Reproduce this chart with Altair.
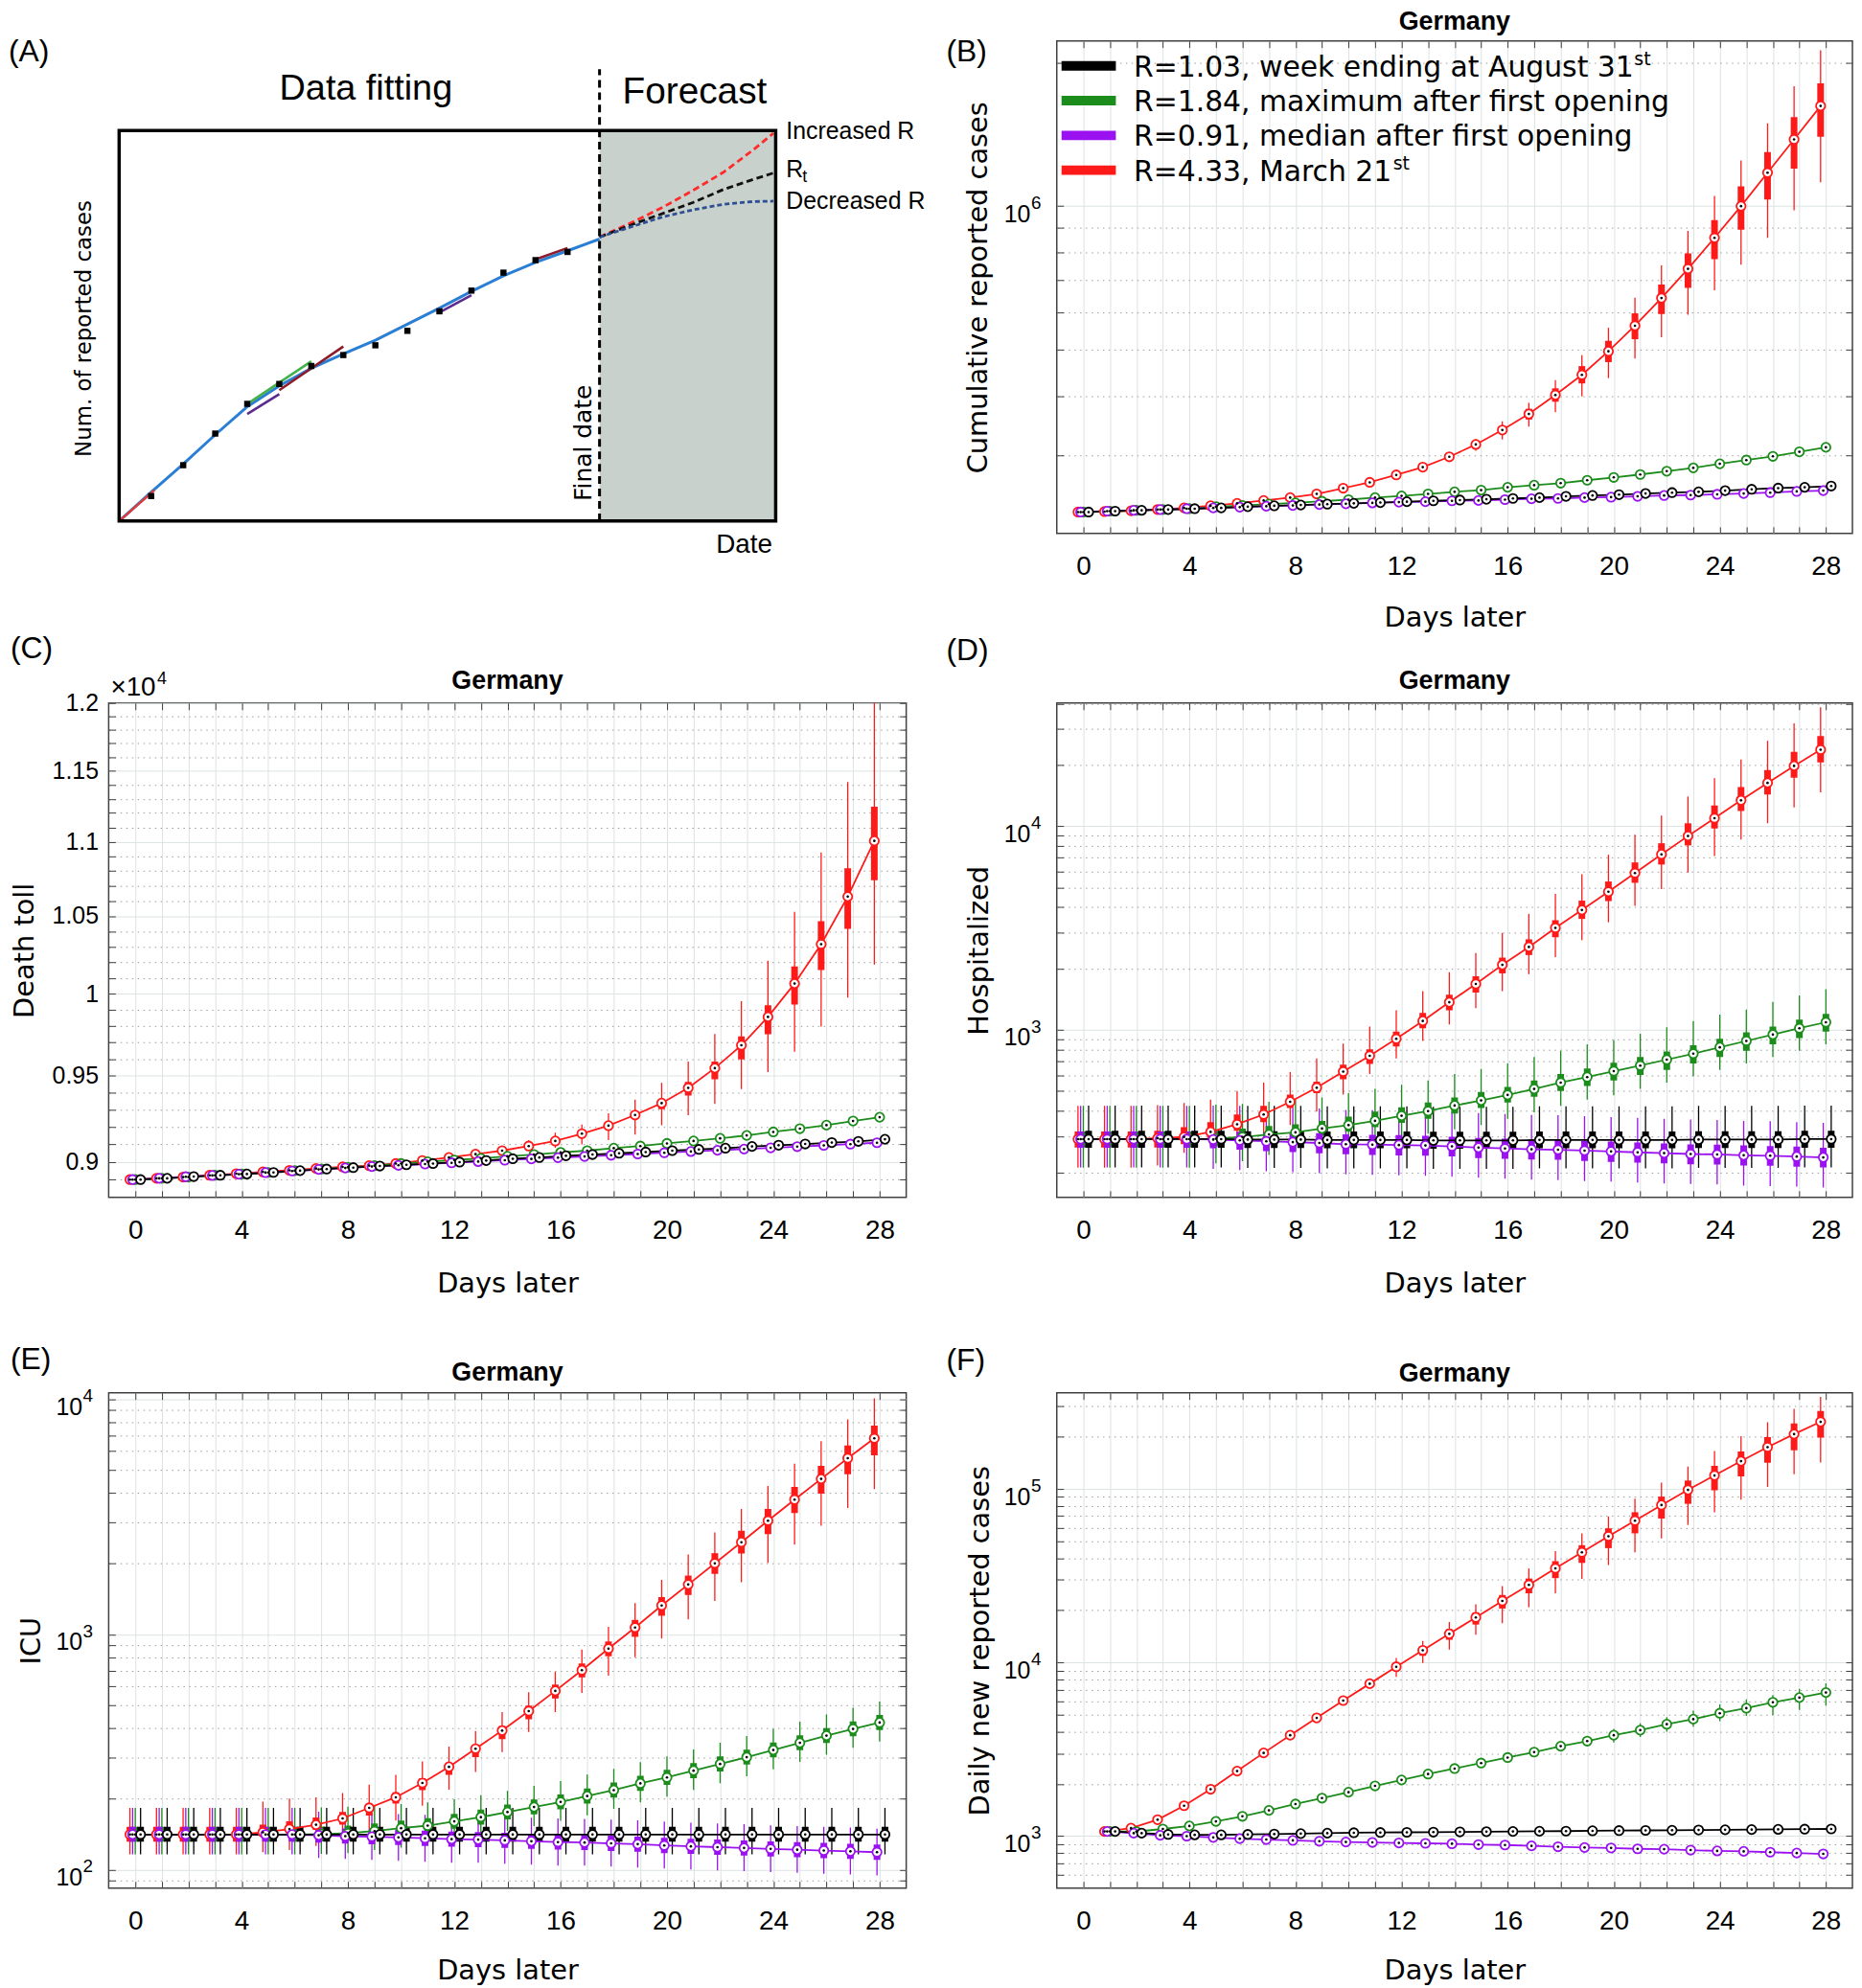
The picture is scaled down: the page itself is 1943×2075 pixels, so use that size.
import altair as alt
import pandas as pd

# ---------------------------------------------------------------- data
DAYS = list(range(29))

def pad(n, vals):
    return [None] * n + list(vals)

LEG_KEYS = ["black", "green", "purple", "red"]
LEG_TEXT = ["R=1.03, week ending at August 31", "R=1.84, maximum after first opening",
            "R=0.91, median after first opening", "R=4.33, March 21"]
LEG_SUP = ["st", "", "", "st"]
LEG_COLORS = ["#000000", "#1c8c1c", "#9a12f0", "#ff1a1a"]
DRAW_ORDER = ["red", "green", "purple", "black"]
OFFSET = {"red": -0.2, "purple": -0.1, "green": 0.0, "black": 0.2}

# (B) cumulative reported cases
B_RED = [228400, 228900, 229800, 231200, 233000, 235400, 238200, 241500, 244900, 249300, 256300, 263600,
         273200, 283700, 298200, 316500, 339400, 366700, 401800, 443000, 496200, 561500, 641700, 739000,
         858000, 1000000, 1175000, 1380000, 1622000]
B_RED_BLO = pad(14, [296000, 313000, 333000, 357000, 389000, 425000, 471000, 526000, 594000, 674000, 774000,
                     893000, 1032000, 1199000, 1397000])
B_RED_BHI = pad(14, [301000, 320000, 345000, 376000, 415000, 462000, 522000, 596000, 685000, 796000, 935000,
                     1100000, 1298000, 1537000, 1809000])
B_RED_WLO = pad(14, [293000, 307000, 324000, 345000, 370000, 399000, 436000, 479000, 531000, 592000, 666000,
                     754000, 858000, 980000, 1122000])
B_RED_WHI = pad(14, [304000, 325000, 354000, 387000, 432000, 487000, 556000, 643000, 751000, 887000, 1051000,
                     1247000, 1492000, 1784000, 2121000])
B_GREEN = [228400, 229400, 230300, 231200, 232100, 234400, 235800, 237300, 238700, 240600, 242500, 244900,
           246900, 249300, 251800, 253900, 257400, 260000, 262600, 266300, 270000, 273800, 278200, 282700,
           288300, 293500, 298900, 305500, 312200]
B_PURPLE = [228400, 229400, 230300, 231200, 232100, 233000, 233900, 234900, 235800, 236800, 237700, 238700,
            239600, 240100, 241100, 241500, 242500, 243500, 243900, 244900, 245400, 246400, 247400, 247900,
            248800, 249800, 250800, 252300, 253300]
B_BLACK = [228400, 229400, 230300, 231200, 232100, 233000, 234400, 235400, 236300, 237300, 238200, 239100,
           240100, 241100, 242000, 243000, 243900, 244900, 246400, 247400, 248400, 249800, 250800, 251800,
           253300, 254900, 256400, 257400, 259000]

# (C) death toll
C_RED = [8900, 8907, 8914, 8924, 8933, 8943, 8952, 8962, 8971, 8978, 8990, 9007, 9024, 9043, 9063, 9089,
         9118, 9160, 9206, 9268, 9337, 9427, 9544, 9682, 9856, 10064, 10316, 10628, 11006]
C_RED_BLO = pad(15, [9085, 9110, 9150, 9192, 9245, 9302, 9382, 9478, 9597, 9749, 9933, 10150, 10415, 10738])
C_RED_BHI = pad(15, [9093, 9126, 9170, 9221, 9288, 9362, 9462, 9584, 9736, 9928, 10172, 10466, 10819, 11245])
C_RED_WLO = pad(15, [9063, 9079, 9099, 9123, 9155, 9209, 9266, 9332, 9420, 9520, 9643, 9796, 9976, 10185])
C_RED_WHI = pad(15, [9123, 9165, 9213, 9278, 9357, 9457, 9584, 9751, 9954, 10209, 10527, 10926, 11420, 12200])
C_GREEN = [8900, 8907, 8914, 8924, 8931, 8940, 8950, 8959, 8969, 8978, 8990, 9000, 9010, 9019, 9031, 9041,
           9053, 9063, 9077, 9089, 9104, 9118, 9133, 9150, 9170, 9189, 9209, 9233, 9255]
C_PURPLE = [8900, 8907, 8916, 8923, 8930, 8939, 8948, 8957, 8965, 8973, 8980, 8987, 8994, 9001, 9009, 9016,
            9023, 9030, 9037, 9044, 9051, 9058, 9065, 9072, 9079, 9086, 9093, 9100, 9108]
C_BLACK = [8900, 8907, 8917, 8924, 8931, 8940, 8950, 8959, 8967, 8976, 8983, 8990, 8998, 9007, 9017, 9024,
           9034, 9041, 9048, 9055, 9063, 9070, 9077, 9087, 9094, 9101, 9109, 9116, 9128]

# (D) hospitalized
D_RED = [290.8, 290.8, 290.8, 293.5, 297.8, 315.5, 344.0, 384.2, 443.8, 520.0, 624.2, 746.0, 904.0, 1106,
         1367, 1681, 2086, 2554, 3170, 3879, 4770, 5893, 7282, 8954, 10956, 13411, 16329, 19796, 23759]
D_RED_BLO = [264.1, 264.1, 264.1, 264.1, 274.5, 294.9, 320.0, 352.4, 412.9, 488.6, 572.6, 680.8, 829.1, 1019,
             1247, 1527, 1895, 2331, 2852, 3507, 4291, 5277, 6487, 8056, 9763, 11890, 14340, 17300, 20570]
D_RED_BHI = [317.0, 317.0, 317.0, 320.0, 332.5, 352.4, 384.2, 423.0, 481.6, 556.4, 674.3, 801.6, 981, 1212,
             1490, 1833, 2264, 2784, 3456, 4312, 5354, 6644, 8252, 10340, 12660, 15560, 18860, 23200, 27710]
D_RED_WLO = [210.7, 210.7, 210.7, 215.8, 249.3, 267.9, 281.1, 309.5, 340.6, 397.3, 481.6, 606.6, 724.6, 882.4,
             1064, 1278, 1549, 1877, 2275, 2757, 3375, 4070, 4909, 5922, 7144, 8616, 10340, 12360, 14690]
D_RED_WHI = [423.0, 423.0, 423.0, 427.1, 437.5, 454.6, 500.4, 551.1, 621.3, 724.6, 857.5, 1039, 1247, 1549,
             1922, 2387, 2992, 3715, 4656, 5809, 7247, 9084, 11280, 14000, 17220, 21270, 26280, 32010, 38420]
D_GREEN = [290.8, 290.8, 290.8, 290.8, 290.8, 292.1, 297.8, 306.5, 314.0, 327.9, 340.6, 357.6, 378.7, 399.2,
           425.0, 450.2, 479.3, 512.7, 551.1, 586.6, 627.2, 667.9, 714.4, 764.1, 821.1, 882.4, 948.5, 1019, 1090]
D_GREEN_BLO = [264.1, 264.1, 264.1, 264.1, 264.1, 267.9, 274.5, 281.1, 290.8, 302.1, 317.0, 332.5, 349.0, 366.2,
               387.9, 412.9, 439.5, 470.0, 500.4, 530.2, 564.5, 600.8, 636.7, 684.0, 735.1, 790.0, 849.1, 912.8, 981.0]
D_GREEN_BHI = [317.0, 317.0, 317.0, 317.0, 317.0, 320.0, 327.9, 337.4, 344.0, 357.6, 375.1, 397.3, 416.9, 439.5,
               465.5, 495.5, 525.1, 564.5, 606.6, 645.7, 690.6, 735.1, 782.5, 841.0, 904.0, 971.6, 1039, 1122, 1200]
D_GREEN_WLO = [210.7, 210.7, 210.7, 210.7, 210.7, 221.0, 226.4, 243.4, 255.3, 267.9, 274.5, 281.1, 294.9, 309.5,
               324.7, 340.6, 366.2, 393.5, 423.0, 454.6, 476.9, 512.7, 551.1, 592.2, 636.7, 684.0, 735.1, 790.0, 849.1]
D_GREEN_WHI = [423.0, 423.0, 423.0, 423.0, 423.0, 429.1, 433.3, 443.8, 454.6, 465.5, 488.6, 512.7, 537.8, 564.5,
               606.6, 642.8, 684.0, 735.1, 790.0, 849.1, 891.2, 957.7, 1029, 1106, 1189, 1259, 1373, 1476, 1586]
D_PURPLE = [290.8, 290.8, 290.8, 290.8, 290.8, 289.3, 286.6, 283.8, 281.1, 278.4, 274.5, 273.2, 271.9, 270.6,
            267.9, 264.1, 261.6, 259.1, 257.9, 255.3, 252.9, 250.5, 248.1, 245.7, 244.5, 242.2, 241.0, 238.7, 236.4]
D_PURPLE_BLO = [264, 264, 264, 264, 264, 262, 258, 254, 251, 248, 245, 243, 242, 241, 239, 235, 233, 231, 230,
                227, 225, 223, 221, 219, 218, 216, 215, 213, 211]
D_PURPLE_BHI = [317, 317, 317, 317, 317, 317, 316, 314, 313, 311, 307, 305, 304, 302, 299, 295, 292, 289, 288,
                285, 283, 280, 277, 274, 273, 271, 269, 267, 264]
D_PURPLE_WLO = [211, 211, 211, 211, 211, 208, 205, 202, 200, 198, 195, 194, 193, 192, 190, 188, 186, 184, 183,
                181, 180, 178, 176, 175, 174, 172, 171, 170, 168]
D_PURPLE_WHI = [423, 423, 423, 423, 423, 425, 423, 420, 415, 411, 405, 403, 401, 399, 395, 390, 386, 382, 381,
                377, 373, 370, 366, 363, 361, 357, 356, 352, 349]
D_BLACK = [290.8, 290.8, 290.8, 290.8, 290.8, 290.8, 289.3, 289.3, 289.3, 288.0, 288.0, 288.0, 288.0, 286.6,
           286.6, 286.6, 286.6, 288.0, 288.0, 288.0, 288.0, 288.0, 288.0, 289.3, 289.3, 289.3, 289.3, 290.8, 290.8]
D_BLACK_BLO = [264, 264, 264, 264, 264, 264, 263, 263, 263, 262, 262, 262, 262, 261, 261, 261, 261, 262, 262,
               262, 262, 262, 262, 263, 263, 263, 263, 264, 264]
D_BLACK_BHI = [320, 320, 320, 320, 320, 320, 318, 318, 318, 317, 317, 317, 317, 316, 316, 316, 316, 317, 317,
               317, 317, 317, 317, 318, 318, 318, 318, 320, 320]
D_BLACK_WLO = [211, 211, 211, 211, 211, 211, 210, 210, 210, 209, 209, 209, 209, 208, 208, 208, 208, 209, 209,
               209, 209, 209, 209, 210, 210, 210, 210, 211, 211]
D_BLACK_WHI = [425, 425, 425, 425, 425, 425, 423, 423, 423, 421, 421, 421, 421, 419, 419, 419, 419, 421, 421,
               421, 421, 421, 421, 423, 423, 423, 423, 425, 425]

# (E) ICU
E_RED = [140.9, 140.9, 140.9, 140.9, 140.9, 143.9, 148.7, 155.0, 164.9, 182.9, 202.8, 233.3, 273.2, 326.3,
         389.6, 471.2, 574.7, 703.8, 868.9, 1068, 1325, 1628, 2002, 2463, 3040, 3738, 4577, 5606, 6808]
E_RED_BLO = [131.4, 131.4, 131.4, 131.4, 131.4, 139.8, 142.6, 147.5, 155.0, 169.7, 190.6, 217.6, 252.5, 300.3,
             358.7, 435.6, 533.4, 655.9, 806.5, 975.5, 1199, 1469, 1806, 2203, 2664, 3275, 3961, 4791, 5769]
E_RED_BHI = [151.8, 151.8, 151.8, 151.8, 151.8, 155.0, 160.2, 166.3, 175.5, 190.6, 213.1, 244.3, 284.6, 337.2,
             407.8, 497.3, 611.4, 751.6, 932.2, 1151, 1439, 1776, 2212, 2753, 3414, 4232, 5205, 6347, 7709]
E_RED_WLO = [116.0, 116.0, 116.0, 116.0, 116.0, 118.5, 120.9, 126.0, 136.9, 148.7, 161.5, 186.7, 218.5, 259.8,
             315.6, 384.8, 467.4, 562.9, 666.8, 799.8, 959.5, 1156, 1386, 1663, 2011, 2402, 2893, 3442, 4145]
E_RED_WHI = [182.9, 182.9, 182.9, 182.9, 182.9, 194.5, 200.2, 202.8, 211.3, 229.6, 252.5, 288.1, 333.1, 388.0,
             467.4, 567.5, 692.0, 861.8, 1077, 1357, 1704, 2185, 2708, 3414, 4267, 5313, 6614, 8200, 10083]
E_GREEN = [140.9, 140.9, 140.9, 140.9, 140.9, 140.9, 140.9, 141.5, 142.6, 145.7, 149.9, 153.7, 160.2, 167.0,
           175.5, 184.4, 193.8, 205.3, 217.6, 232.4, 246.3, 263.2, 281.0, 300.3, 322.2, 345.6, 370.8, 396.1, 421.5]
E_GREEN_BLO = [131.4, 131.4, 131.4, 131.4, 131.4, 131.4, 131.4, 131.8, 132.6, 135.5, 139.4, 142.9, 149.0, 155.3,
               163.2, 171.5, 180.2, 190.9, 202.4, 216.1, 229.1, 244.8, 261.3, 279.3, 299.6, 321.4, 344.8, 368.4, 392.0]
E_GREEN_BHI = [151.8, 151.8, 151.8, 151.8, 151.8, 151.8, 151.8, 152.4, 153.6, 156.9, 161.4, 165.5, 172.5, 179.9,
               189.0, 198.6, 208.7, 221.1, 234.4, 250.3, 265.3, 283.5, 302.6, 323.4, 347.0, 372.2, 399.4, 426.6, 454.0]
E_GREEN_WLO = [116.0, 116.0, 116.0, 116.0, 116.0, 116.0, 116.0, 116.5, 117.5, 121.0, 124.0, 128.0, 133.0, 139.0,
               146.0, 153.0, 161.0, 170.0, 181.0, 193.0, 204.0, 218.0, 233.0, 249.0, 267.0, 287.0, 308.0, 329.0, 350.0]
E_GREEN_WHI = [182.9, 182.9, 182.9, 182.9, 182.9, 182.9, 182.9, 183.7, 185.0, 187.0, 190.0, 193.0, 199.0, 207.0,
               216.0, 227.0, 238.0, 253.0, 268.0, 286.0, 303.0, 324.0, 346.0, 369.0, 396.0, 425.0, 456.0, 487.0, 518.0]
E_PURPLE = [140.9, 140.9, 140.9, 140.9, 140.9, 140.9, 140.9, 139.8, 138.6, 138.0, 136.9, 135.8, 134.6, 134.1,
            133.0, 131.9, 130.8, 130.3, 129.2, 128.2, 126.6, 125.5, 124.5, 123.5, 122.4, 121.4, 120.4, 119.5, 118.5]
E_PURPLE_BLO = [131.4, 131.4, 131.4, 131.4, 131.4, 131.4, 131.4, 130.0, 129.0, 128.0, 127.0, 126.0, 125.0, 124.5,
                123.5, 122.5, 121.5, 121.0, 120.0, 119.0, 117.5, 116.5, 115.6, 114.7, 113.7, 112.7, 111.8, 111.0, 110.0]
E_PURPLE_BHI = [151.8, 151.8, 151.8, 151.8, 151.8, 151.8, 151.8, 150.6, 149.3, 148.6, 147.5, 146.3, 145.0, 144.4,
                143.2, 142.1, 140.9, 140.3, 139.2, 138.1, 136.4, 135.2, 134.1, 133.0, 131.8, 130.7, 129.7, 128.7, 127.6]
E_PURPLE_WLO = [116.0, 116.0, 116.0, 116.0, 116.0, 116.0, 116.0, 112.0, 111.0, 110.0, 109.0, 108.0, 107.0, 107.0,
                106.0, 105.0, 104.0, 104.0, 103.0, 102.0, 101.0, 100.0, 99.2, 98.4, 97.6, 96.8, 96.0, 95.2, 94.4]
E_PURPLE_WHI = [182.9, 182.9, 182.9, 182.9, 182.9, 182.9, 182.9, 176.0, 175.0, 174.0, 172.0, 171.0, 170.0, 169.0,
                168.0, 166.0, 165.0, 164.0, 163.0, 162.0, 160.0, 158.0, 157.0, 156.0, 154.0, 153.0, 152.0, 151.0, 149.0]
E_BLACK = [140.9, 140.9, 140.9, 140.9, 140.9, 140.9, 140.9, 140.9, 140.9, 140.9, 140.9, 140.9, 140.9, 140.9,
           140.9, 140.9, 140.9, 140.9, 140.9, 140.9, 140.9, 140.9, 140.9, 140.9, 140.9, 140.9, 140.9, 140.9, 140.9]
E_BLACK_BLO = [131.4, 131.4, 131.4, 131.4, 131.4, 131.4, 131.4, 131.4, 131.4, 131.4, 131.4, 131.4, 131.4, 131.4,
               131.4, 131.4, 131.4, 131.4, 131.4, 131.4, 131.4, 131.4, 131.4, 131.4, 131.4, 131.4, 131.4, 131.4, 131.4]
E_BLACK_BHI = [151.8, 151.8, 151.8, 151.8, 151.8, 151.8, 151.8, 151.8, 151.8, 151.8, 151.8, 151.8, 151.8, 151.8,
               151.8, 151.8, 151.8, 151.8, 151.8, 151.8, 151.8, 151.8, 151.8, 151.8, 151.8, 151.8, 151.8, 151.8, 151.8]
E_BLACK_WLO = [116.0, 116.0, 116.0, 116.0, 116.0, 116.0, 116.0, 116.0, 116.0, 116.0, 116.0, 116.0, 116.0, 116.0,
               116.0, 116.0, 116.0, 116.0, 116.0, 116.0, 116.0, 116.0, 116.0, 116.0, 116.0, 116.0, 116.0, 116.0, 116.0]
E_BLACK_WHI = [182.9, 182.9, 182.9, 182.9, 182.9, 182.9, 182.9, 182.9, 182.9, 182.9, 182.9, 182.9, 182.9, 182.9,
               182.9, 182.9, 182.9, 182.9, 182.9, 182.9, 182.9, 182.9, 182.9, 182.9, 182.9, 182.9, 182.9, 182.9, 182.9]

# (F) daily new reported cases
F_RED = [None, 1064, 1112, 1244, 1497, 1863, 2370, 3016, 3815, 4800, 6040, 7556, 9456, 11767, 14638, 18206,
         22657, 28034, 34874, 43152, 53395, 65692, 80819, 98878, 119650, 144740, 174120, 207230, 243800]
F_RED_BLO = pad(12, [9091, 10940, 13530, 16560, 20480, 25060, 30670, 37520, 45640, 55540, 67570, 82180, 98330,
                     118300, 141500, 167400, 198100])
F_RED_BHI = pad(12, [9779, 12440, 15570, 19480, 24510, 30500, 38370, 47470, 59390, 73480, 90410, 111900, 136100,
                     164700, 199200, 238300, 281900])
F_RED_WLO = pad(12, [8268, 9945, 11900, 14470, 16840, 20830, 25060, 30330, 36480, 43150, 51920, 62120, 73480,
                     86930, 102800, 121700, 142300])
F_RED_WHI = pad(12, [10640, 13310, 17120, 21670, 27570, 34870, 43880, 55540, 69490, 87910, 108800, 134600,
                     165600, 201500, 242300, 290000, 339200])
F_GREEN = [None, 1064, 1062, 1100, 1144, 1216, 1301, 1407, 1531, 1656, 1791, 1948, 2107, 2279, 2451, 2636, 2836,
           3050, 3298, 3528, 3815, 4081, 4413, 4721, 5106, 5461, 5905, 6283, 6719]
F_GREEN_WLO = pad(20, [3468, 3731, 3990, 4267, 4589, 4936, 4992, 5339, 5646])
F_GREEN_WHI = pad(20, [4150, 4463, 4855, 5280, 5743, 6143, 6497, 7067, 7598])
F_BLACK = [None, 1064, 1040, 1023, 1017, 1017, 1023, 1028, 1034, 1040, 1046, 1049, 1052, 1055, 1058, 1061, 1064,
           1067, 1069, 1073, 1076, 1079, 1081, 1085, 1088, 1091, 1094, 1097, 1100]
F_PURPLE = [None, 1064, 1040, 1011, 1000, 983, 967, 956, 945, 935, 925, 920, 914, 909, 904, 894, 889, 879, 869,
            860, 855, 845, 841, 831, 822, 817, 808, 799, 790]

# y-axis tick values and decade labels
B_YTICKS = [300000, 400000, 500000, 600000, 700000, 800000, 900000, 1000000, 2000000]
C_YTICKS = [0.89, 0.90, 0.91, 0.92, 0.93, 0.94, 0.95, 0.96, 0.97, 0.98, 0.99, 1.00, 1.01, 1.02, 1.03, 1.04,
            1.05, 1.06, 1.07, 1.08, 1.09, 1.10, 1.11, 1.12, 1.13, 1.14, 1.15, 1.16, 1.17, 1.18, 1.19, 1.20]
D_YTICKS = [200, 300, 400, 500, 600, 700, 800, 900, 1000, 2000, 3000, 4000, 5000, 6000, 7000, 8000, 9000,
            10000, 20000, 30000, 40000]
E_YTICKS = [90, 100, 200, 300, 400, 500, 600, 700, 800, 900, 1000, 2000, 3000, 4000, 5000, 6000, 7000, 8000,
            9000, 10000]
F_YTICKS = [600, 700, 800, 900, 1000, 2000, 3000, 4000, 5000, 6000, 7000, 8000, 9000, 10000, 20000, 30000,
            40000, 50000, 60000, 70000, 80000, 90000, 100000, 200000, 300000]
B_DECADES = {"v": [1000000], "e": ["6"]}
D_DECADES = {"v": [1000, 10000], "e": ["3", "4"]}
E_DECADES = {"v": [100, 1000, 10000], "e": ["2", "3", "4"]}
F_DECADES = {"v": [1000, 10000, 100000], "e": ["3", "4", "5"]}

# (A) schematic
A_DATA_X = [1, 2, 3, 4, 5, 6, 7, 8, 9, 10, 11, 12, 13, 14]
A_DATA_Y = [6.4, 14.3, 22.4, 30.0, 35.1, 39.7, 42.5, 45.0, 48.7, 53.7, 59.0, 63.6, 66.8, 68.9]
A_FIT_X = [0, 1, 2, 3, 4, 5, 6, 7, 8, 9, 10, 11, 12, 13, 14, 15]
A_FIT_Y = [0, 7.4, 14.6, 22.1, 29.3, 34.6, 39.1, 42.8, 46.3, 50.4, 54.5, 58.8, 62.8, 66.2, 69.2, 72.2]
A_SEGMENTS = [
    {"seg": "s1", "col": "#e03a3a", "x": [0, 1.1], "y": [0, 7.9]},
    {"seg": "s2", "col": "#46b04a", "x": [4, 6], "y": [30.0, 40.9]},
    {"seg": "s3", "col": "#5d2a8e", "x": [4, 5], "y": [27.4, 32.5]},
    {"seg": "s4", "col": "#8e1b2b", "x": [5, 7], "y": [33.5, 44.7]},
    {"seg": "s5", "col": "#5d2a8e", "x": [10, 11], "y": [53.4, 57.8]},
    {"seg": "s6", "col": "#8e1b2b", "x": [13, 14], "y": [67.0, 69.9]},
]
A_FC_X = [15.0, 16.05, 16.99, 17.93, 18.87, 19.81, 20.43]
A_FC_UP = [72.7, 76.6, 80.4, 84.7, 89.3, 95.1, 99.3]
A_FC_RT = [72.7, 76.0, 78.8, 81.6, 84.9, 87.5, 89.1]
A_FC_DOWN = [72.7, 75.5, 77.9, 79.7, 81.1, 81.8, 81.9]
A_FINAL_X = 15
A_X_MAX = 20.5
A_Y_MAX = 100
A_DASH_TOP = 115.7

# ---------------------------------------------------------------- style / layout
GRID = "#dce3e3"
MINOR = "#9c9c9c"
TICK = "#3c3c3c"
ONE = alt.Data(values=[{"k": 0}])
LOG_MAJOR = "abs(log(datum.value)/LN10 - round(log(datum.value)/LN10)) < 0.001"
LOG_LABEL = LOG_MAJOR + " ? '10' : ''"
C_MAJOR = "abs(datum.value*20 - round(datum.value*20)) < 0.001"
C_LABEL = C_MAJOR + " ? format(datum.value, '~g') : ''"
COLOR = dict(zip(LEG_KEYS, LEG_COLORS))

# cell extents (relative to each plot area) used to pin the grid layout
COL0 = (-105, 897)
COL1 = (-146, 836)
ROW0 = (-31, 663)
ROW1 = (-80, 692)
ROW2 = (-80, 622)


def build_df(series, scale=1.0):
    rows = []
    for key in DRAW_ORDER:
        s = series[key]
        for d in DAYS:
            m = s["med"][d]
            if m is None:
                continue
            r = {"series": key, "col": COLOR[key], "day": d, "x": d + OFFSET[key], "med": m / scale}
            for k in ("blo", "bhi", "wlo", "whi"):
                arr = s.get(k)
                v = None if arr is None else arr[d]
                r[k] = None if v is None else v / scale
            rows.append(r)
    return pd.DataFrame(rows)


def txt(s, x, y, size, font="Liberation Sans", align="left", baseline="alphabetic",
        weight="normal", angle=0):
    kw = dict(text=s, font=font, fontSize=size, align=align, baseline=baseline,
              fontWeight=weight, color="black")
    if angle:
        kw["angle"] = angle
    return alt.Chart(ONE).mark_text(**kw).encode(x=alt.value(x), y=alt.value(y))


def anchor(cx, ry):
    return alt.Chart(ONE).mark_rule(strokeOpacity=0, strokeWidth=1).encode(
        x=alt.value(cx[0]), x2=alt.value(cx[1]), y=alt.value(ry[0]), y2=alt.value(ry[1]))


def manual_legend():
    out = []
    y0, step = 26.2, 36.5
    for i, (lab, col) in enumerate(zip(LEG_TEXT, LEG_COLORS)):
        yc = y0 + step * i
        out.append(alt.Chart(ONE).mark_rule(color=col, strokeWidth=10).encode(
            x=alt.value(5), x2=alt.value(62), y=alt.value(yc)))
        out.append(txt(lab, 80.7, yc + 2, 30, font="DejaVu Sans", baseline="middle"))
    out.append(txt(LEG_SUP[0], 606, y0 - 7, 19, font="DejaVu Sans", baseline="middle"))
    out.append(txt(LEG_SUP[3], 353, y0 + step * 3 - 7, 19, font="DejaVu Sans", baseline="middle"))
    return out


def data_panel(df, W, H, ydom, yticks, major, lab_expr, ytitle, ytitle_x, xtitle_y,
               cx, ry, plabel, pl_xy, title_y, title_size=27, decades=None, extra=()):
    xs = alt.Scale(domain=[-1, 29], nice=False, zero=False)
    ys = alt.Scale(type="log", domain=ydom, nice=False)
    lab_pad = 28 if decades else 11
    lab_off = 8 if decades else 0
    xaxis = alt.Axis(values=DAYS, labelExpr="datum.value % 4 === 0 ? format(datum.value, 'd') : ''",
                     grid=True, gridColor=GRID, gridWidth=1, ticks=True, tickSize=7, tickColor=TICK,
                     tickWidth=1, domain=False, offset=-7, labelFont="Liberation Sans", labelFontSize=28,
                     labelColor="black", labelPadding=21, labelFlush=False, labelOverlap=False,
                     title="Days later", titleFont="DejaVu Sans", titleFontSize=29,
                     titleFontWeight="normal", titleColor="black", titleX=W / 2, titleY=xtitle_y + 7,
                     titleBaseline="middle", titleAlign="center", titleAngle=0)
    yaxis = alt.Axis(values=yticks, labelExpr=lab_expr, grid=True,
                     gridColor={"condition": {"test": major, "value": GRID}, "value": MINOR},
                     gridDash={"condition": {"test": major, "value": []}, "value": [1.5, 4.5]},
                     gridWidth=1, ticks=True, tickSize=7, tickColor=TICK, tickWidth=1, domain=False,
                     offset=-7, labelFont="Liberation Sans", labelFontSize=25, labelColor="black",
                     labelPadding=lab_pad, labelOffset=lab_off, labelOverlap=False, labelFlush=False,
                     title=ytitle, titleFont="DejaVu Sans", titleFontSize=29, titleFontWeight="normal",
                     titleColor="black", titleX=ytitle_x - 7, titleY=H / 2, titleAngle=270,
                     titleBaseline="middle", titleAlign="center")
    base = alt.Chart(df)
    whisk = base.mark_rule(strokeWidth=1.3, clip=True).encode(
        x=alt.X("x:Q", scale=xs, axis=xaxis), y=alt.Y("wlo:Q", scale=ys, axis=yaxis), y2="whi:Q",
        color=alt.Color("col:N", scale=None))
    box = base.mark_rule(strokeWidth=7, clip=True).encode(
        x=alt.X("x:Q", scale=xs, axis=None), y=alt.Y("blo:Q", scale=ys, axis=None), y2="bhi:Q",
        color=alt.Color("col:N", scale=None))
    line = base.mark_line(strokeWidth=1.8, clip=True).encode(
        x=alt.X("x:Q", scale=xs, axis=None), y=alt.Y("med:Q", scale=ys, axis=None),
        color=alt.Color("col:N", scale=None), detail="series:N")
    pts = base.mark_circle(size=90, fill="white", strokeWidth=1.8, opacity=1, clip=True).encode(
        x=alt.X("x:Q", scale=xs, axis=None), y=alt.Y("med:Q", scale=ys, axis=None),
        stroke=alt.Stroke("col:N", scale=None))
    dots = base.mark_circle(size=7, color="black", opacity=1, clip=True).encode(
        x=alt.X("x:Q", scale=xs, axis=None), y=alt.Y("med:Q", scale=ys, axis=None))
    tk = base.mark_point(opacity=0).encode(
        x=alt.X("x:Q", scale=xs, axis=alt.Axis(orient="top", offset=-7, values=DAYS, ticks=True,
                                                tickSize=7, tickColor=TICK, tickWidth=1, labels=False,
                                                domain=False, grid=False, title=None, minExtent=0)),
        y=alt.Y("med:Q", scale=ys, axis=alt.Axis(orient="right", offset=-7, values=yticks, ticks=True,
                                                  tickSize=7, tickColor=TICK, tickWidth=1, labels=False,
                                                  domain=False, grid=False, title=None, minExtent=0)))
    layers = [anchor(cx, ry), whisk, box, line, pts, dots, tk,
              txt("Germany", W / 2, title_y, title_size, align="center", weight="bold"),
              txt(plabel, pl_xy[0], pl_xy[1], 32, baseline="middle")]
    if decades:
        layers.append(alt.Chart(pd.DataFrame(decades)).mark_text(
            align="left", baseline="middle", font="Liberation Sans", fontSize=19, color="black",
            dy=-3).encode(x=alt.value(-27), y=alt.Y("v:Q", scale=ys, axis=None), text="e:N"))
    layers += list(extra)
    return alt.layer(*layers).resolve_axis(x="independent", y="independent").properties(
        width=W, height=H)


# ---------------------------------------------------------------- panel A
A_W, A_H = 837, 517
AX0, AX1, AY0, AY1 = 11, 700, 94, 504   # schematic box inside the cell
axs = alt.Scale(domain=[0, A_X_MAX], range=[AX0, AX1], nice=False, zero=False)
ays = alt.Scale(domain=[0, A_Y_MAX], range=[AY1, AY0], nice=False, zero=False)
shade = alt.Chart(pd.DataFrame({"x0": [A_FINAL_X], "x1": [A_X_MAX], "y0": [0], "y1": [A_Y_MAX]})).mark_rect(
    color="#c9d1cd").encode(x=alt.X("x0:Q", scale=axs, axis=None), x2="x1",
                            y=alt.Y("y0:Q", scale=ays, axis=None), y2="y1")
fit = alt.Chart(pd.DataFrame({"x": A_FIT_X, "y": A_FIT_Y})).mark_line(color="#2a7fd4", strokeWidth=3).encode(
    x=alt.X("x:Q", scale=axs, axis=None), y=alt.Y("y:Q", scale=ays, axis=None))
seg_rows = []
for s in A_SEGMENTS:
    for xv, yv in zip(s["x"], s["y"]):
        seg_rows.append({"seg": s["seg"], "col": s["col"], "x": xv, "y": yv})
segs = alt.Chart(pd.DataFrame(seg_rows)).mark_line(strokeWidth=2.6).encode(
    x=alt.X("x:Q", scale=axs, axis=None), y=alt.Y("y:Q", scale=ays, axis=None),
    color=alt.Color("col:N", scale=None), detail="seg:N")
sq = alt.Chart(pd.DataFrame({"x": A_DATA_X, "y": A_DATA_Y})).mark_square(size=42, color="black", opacity=1).encode(
    x=alt.X("x:Q", scale=axs, axis=alt.Axis(orient="bottom", offset=-(A_H - AY1) - 6, values=A_DATA_X,
                                             ticks=True, tickSize=6, tickColor="#555555", labels=False,
                                             domain=False, grid=False, title=None)),
    y=alt.Y("y:Q", scale=ays, axis=None))
fc_df = pd.DataFrame({"x": A_FC_X, "up": A_FC_UP, "rt": A_FC_RT, "down": A_FC_DOWN})
fc_up = alt.Chart(fc_df).mark_line(color="#ff2a2a", strokeWidth=2.8, strokeDash=[7, 4]).encode(
    x=alt.X("x:Q", scale=axs, axis=None), y=alt.Y("up:Q", scale=ays, axis=None))
fc_rt = alt.Chart(fc_df).mark_line(color="#111111", strokeWidth=2.8, strokeDash=[7, 4]).encode(
    x=alt.X("x:Q", scale=axs, axis=None), y=alt.Y("rt:Q", scale=ays, axis=None))
fc_dn = alt.Chart(fc_df).mark_line(color="#2e4f92", strokeWidth=2.8, strokeDash=[5, 3]).encode(
    x=alt.X("x:Q", scale=axs, axis=None), y=alt.Y("down:Q", scale=ays, axis=None))
final_line = alt.Chart(pd.DataFrame({"x": [A_FINAL_X], "y0": [0], "y1": [A_DASH_TOP]})).mark_rule(
    color="black", strokeWidth=3, strokeDash=[8, 5]).encode(
    x=alt.X("x:Q", scale=axs, axis=None), y=alt.Y("y0:Q", scale=ays, axis=None), y2="y1")
frame = alt.Chart(ONE).mark_rect(fillOpacity=0, stroke="black", strokeWidth=3.5).encode(
    x=alt.value(AX0), x2=alt.value(AX1), y=alt.value(AY0), y2=alt.value(AY1))
panelA = alt.layer(
    anchor(COL0, ROW0), shade, fit, segs, sq, fc_up, fc_rt, fc_dn, final_line, frame,
    txt("(A)", -105, 11, 32, baseline="middle"),
    txt("Data fitting", 270, 62, 38, align="center"),
    txt("Forecast", 615, 66, 39, align="center"),
    txt("Increased R", 711, 103, 25),
    txt("R", 711, 143, 25),
    txt("t", 728, 148, 18),
    txt("Decreased R", 711, 176, 25),
    txt("Date", 667, 537, 28, align="center"),
    txt("Num. of reported cases", -26, 302, 23, font="DejaVu Sans", align="center", baseline="middle", angle=270),
    txt("Final date", 498, 422, 25, font="DejaVu Sans", align="center", baseline="middle", angle=270),
).properties(width=A_W, height=A_H, view=alt.ViewBackground(stroke="transparent"))

# ---------------------------------------------------------------- panels B-F
dfB = build_df({"red": dict(med=B_RED, blo=B_RED_BLO, bhi=B_RED_BHI, wlo=B_RED_WLO, whi=B_RED_WHI),
                "green": dict(med=B_GREEN), "purple": dict(med=B_PURPLE), "black": dict(med=B_BLACK)})
dfC = build_df({"red": dict(med=C_RED, blo=C_RED_BLO, bhi=C_RED_BHI, wlo=C_RED_WLO, whi=C_RED_WHI),
                "green": dict(med=C_GREEN), "purple": dict(med=C_PURPLE), "black": dict(med=C_BLACK)},
               scale=10000.0)
dfD = build_df({"red": dict(med=D_RED, blo=D_RED_BLO, bhi=D_RED_BHI, wlo=D_RED_WLO, whi=D_RED_WHI),
                "green": dict(med=D_GREEN, blo=D_GREEN_BLO, bhi=D_GREEN_BHI, wlo=D_GREEN_WLO, whi=D_GREEN_WHI),
                "purple": dict(med=D_PURPLE, blo=D_PURPLE_BLO, bhi=D_PURPLE_BHI, wlo=D_PURPLE_WLO,
                               whi=D_PURPLE_WHI),
                "black": dict(med=D_BLACK, blo=D_BLACK_BLO, bhi=D_BLACK_BHI, wlo=D_BLACK_WLO, whi=D_BLACK_WHI)})
dfE = build_df({"red": dict(med=E_RED, blo=E_RED_BLO, bhi=E_RED_BHI, wlo=E_RED_WLO, whi=E_RED_WHI),
                "green": dict(med=E_GREEN, blo=E_GREEN_BLO, bhi=E_GREEN_BHI, wlo=E_GREEN_WLO, whi=E_GREEN_WHI),
                "purple": dict(med=E_PURPLE, blo=E_PURPLE_BLO, bhi=E_PURPLE_BHI, wlo=E_PURPLE_WLO,
                               whi=E_PURPLE_WHI),
                "black": dict(med=E_BLACK, blo=E_BLACK_BLO, bhi=E_BLACK_BHI, wlo=E_BLACK_WLO, whi=E_BLACK_WHI)})
dfF = build_df({"red": dict(med=F_RED, blo=F_RED_BLO, bhi=F_RED_BHI, wlo=F_RED_WLO, whi=F_RED_WHI),
                "green": dict(med=F_GREEN, wlo=F_GREEN_WLO, whi=F_GREEN_WHI),
                "purple": dict(med=F_PURPLE), "black": dict(med=F_BLACK)})

panelB = data_panel(dfB, 835, 517, [206000, 2220000], B_YTICKS, LOG_MAJOR, LOG_LABEL,
                    "Cumulative reported cases", -83, 88, COL1, ROW0, "(B)", (-116, 11), -12,
                    decades=B_DECADES, extra=manual_legend())
panelC = data_panel(dfC, 837, 519, [0.8801, 1.2], C_YTICKS, C_MAJOR, C_LABEL, "Death toll", -88, 90,
                    COL0, ROW1, "(C)", (-103, -57), -15,
                    extra=[txt("×10", 2, -8, 28), txt("4", 51, -20, 18)])
panelD = data_panel(dfD, 835, 519, [150.4, 40300], D_YTICKS, LOG_MAJOR, LOG_LABEL, "Hospitalized", -82, 90,
                    COL1, ROW1, "(D)", (-116, -55), -15, decades=D_DECADES)
panelE = data_panel(dfE, 837, 520, [83.4, 10640], E_YTICKS, LOG_MAJOR, LOG_LABEL, "ICU", -81, 86,
                    COL0, ROW2, "(E)", (-103, -35), -13, decades=E_DECADES)
panelF = data_panel(dfF, 835, 520, [502, 358800], F_YTICKS, LOG_MAJOR, LOG_LABEL, "Daily new reported cases",
                    -81, 86, COL1, ROW2, "(F)", (-116, -34), -12, decades=F_DECADES)

chart = alt.concat(panelA, panelB, panelC, panelD, panelE, panelF, columns=2, spacing=-50,
                   align="each", bounds="full").properties(
    padding={"top": -6, "left": 0, "right": 0, "bottom": 0}, background="white").configure_view(
    stroke="#404040", strokeWidth=1.5)

chart.save("out.html", embed_options={"renderer": "svg", "actions": False})
